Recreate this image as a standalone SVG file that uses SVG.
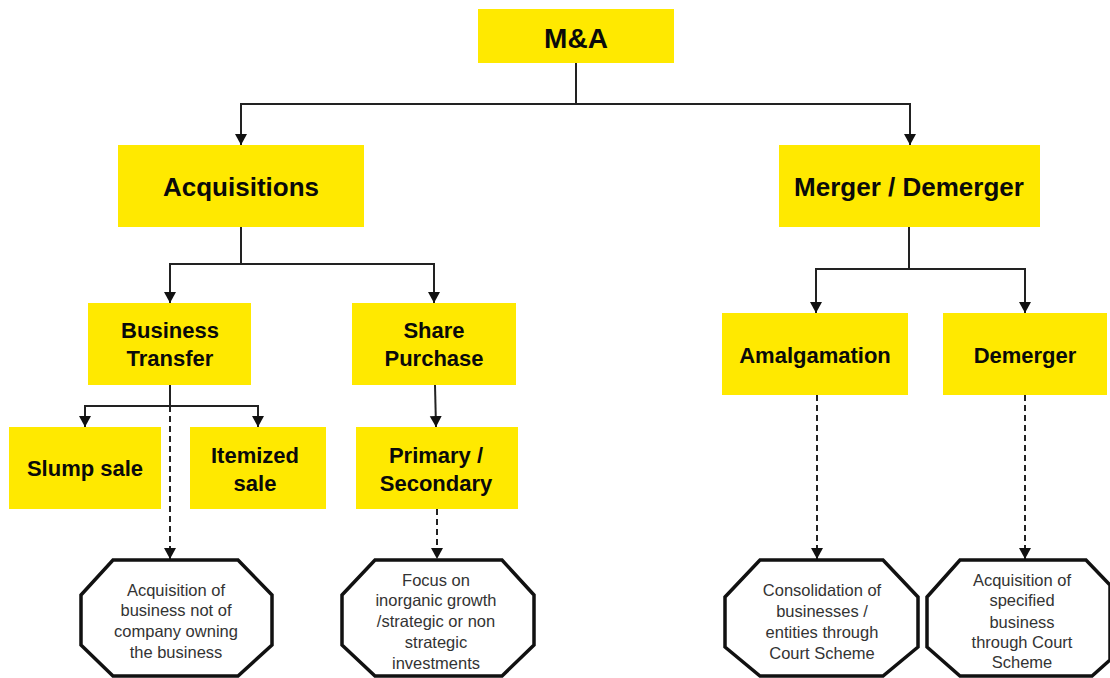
<svg xmlns="http://www.w3.org/2000/svg" width="1110" height="678" viewBox="0 0 1110 678">
  <style>
    .box { fill: #FFE900; }
    .oct { fill: #FFFFFF; stroke: #111111; stroke-width: 3.5; stroke-linejoin: miter; }
    .lbl { font-family: "Liberation Sans", Arial, sans-serif; font-weight: bold; fill: #0A0A0A; text-anchor: middle; }
    .note { font-family: "Liberation Sans", Arial, sans-serif; font-size: 16.5px; fill: #333333; text-anchor: middle; }
    .link { fill: none; stroke: #222222; stroke-width: 2; }
    .dash { fill: none; stroke: #222222; stroke-width: 2; stroke-dasharray: 6 4; }
  </style>
  <defs>
    <marker id="arrow" markerUnits="userSpaceOnUse" markerWidth="13" markerHeight="13" refX="11" refY="6" orient="auto">
      <path d="M0,0 L11,6 L0,12 z" fill="#111111"/>
    </marker>
  </defs>
  <rect width="1110" height="678" fill="#FFFFFF"/>

  <!-- connectors -->
  <g id="connectors">
    <path class="link" d="M576,63 V104 H241 V145" marker-end="url(#arrow)"/>
    <path class="link" d="M576,104 H910 V145" marker-end="url(#arrow)"/>
    <path class="link" d="M241,227 V264 H170 V303" marker-end="url(#arrow)"/>
    <path class="link" d="M241,264 H434 V303" marker-end="url(#arrow)"/>
    <path class="link" d="M909,227 V269 H816 V313" marker-end="url(#arrow)"/>
    <path class="link" d="M909,269 H1025 V313" marker-end="url(#arrow)"/>
    <path class="link" d="M170,385 V406 H85 V427" marker-end="url(#arrow)"/>
    <path class="link" d="M170,406 H258 V427" marker-end="url(#arrow)"/>
    <path class="link" d="M435,385 L436,427" marker-end="url(#arrow)"/>
    <path class="dash" d="M170,406 V559" marker-end="url(#arrow)"/>
    <path class="dash" d="M437,509 V559" marker-end="url(#arrow)"/>
    <path class="dash" d="M817,395 V559" marker-end="url(#arrow)"/>
    <path class="dash" d="M1025,395 V559" marker-end="url(#arrow)"/>
  </g>

  <g id="ma">
    <rect class="box" x="478" y="9" width="196" height="54"/>
    <text class="lbl" x="576" y="48" font-size="28">M&amp;A</text>
  </g>

  <g id="acquisitions">
    <rect class="box" x="118" y="145" width="246" height="82"/>
    <text class="lbl" x="241" y="196" font-size="26">Acquisitions</text>
  </g>

  <g id="merger-demerger">
    <rect class="box" x="779" y="145" width="261" height="82"/>
    <text class="lbl" x="909" y="196" font-size="26">Merger / Demerger</text>
  </g>

  <g id="business-transfer">
    <rect class="box" x="88" y="303" width="163" height="82"/>
    <text class="lbl" x="170" y="338" font-size="22">Business</text>
    <text class="lbl" x="170" y="366" font-size="22">Transfer</text>
  </g>

  <g id="share-purchase">
    <rect class="box" x="352" y="303" width="164" height="82"/>
    <text class="lbl" x="434" y="338" font-size="22">Share</text>
    <text class="lbl" x="434" y="366" font-size="22">Purchase</text>
  </g>

  <g id="amalgamation">
    <rect class="box" x="722" y="313" width="186" height="82"/>
    <text class="lbl" x="815" y="363" font-size="22">Amalgamation</text>
  </g>

  <g id="demerger">
    <rect class="box" x="943" y="313" width="164" height="82"/>
    <text class="lbl" x="1025" y="363" font-size="22">Demerger</text>
  </g>

  <g id="slump-sale">
    <rect class="box" x="9" y="427" width="152" height="82"/>
    <text class="lbl" x="85" y="476" font-size="22">Slump sale</text>
  </g>

  <g id="itemized-sale">
    <rect class="box" x="190" y="427" width="136" height="82"/>
    <text class="lbl" x="255" y="463" font-size="22">Itemized</text>
    <text class="lbl" x="255" y="491" font-size="22">sale</text>
  </g>

  <g id="primary-secondary">
    <rect class="box" x="356" y="427" width="162" height="82"/>
    <text class="lbl" x="436" y="463" font-size="22">Primary /</text>
    <text class="lbl" x="436" y="491" font-size="22">Secondary</text>
  </g>

  <g id="note-business">
    <polygon class="oct" points="113,560 238,560 272,595 272,645 238,676 113,676 81,645 81,595"/>
    <text class="note" x="176" y="596">Acquisition of</text>
    <text class="note" x="176" y="616">business not of</text>
    <text class="note" x="176" y="637">company owning</text>
    <text class="note" x="176" y="658">the business</text>
  </g>

  <g id="note-share">
    <polygon class="oct" points="375,560 502,560 534,595 534,645 502,676 375,676 342,645 342,595"/>
    <text class="note" x="436" y="586">Focus on</text>
    <text class="note" x="436" y="606">inorganic growth</text>
    <text class="note" x="436" y="627">/strategic or non</text>
    <text class="note" x="436" y="648">strategic</text>
    <text class="note" x="436" y="669">investments</text>
  </g>

  <g id="note-amalgamation">
    <polygon class="oct" points="760,560 883,560 918,597 918,647 883,676 760,676 725,647 725,597"/>
    <text class="note" x="822" y="596">Consolidation of</text>
    <text class="note" x="822" y="617">businesses /</text>
    <text class="note" x="822" y="638">entities through</text>
    <text class="note" x="822" y="659">Court Scheme</text>
  </g>

  <g id="note-demerger">
    <polygon class="oct" points="960,560 1086,560 1110,585 1110,660 1092,676 960,676 927,647 927,597"/>
    <text class="note" x="1022" y="586">Acquisition of</text>
    <text class="note" x="1022" y="606">specified</text>
    <text class="note" x="1022" y="628">business</text>
    <text class="note" x="1022" y="648">through Court</text>
    <text class="note" x="1022" y="668">Scheme</text>
  </g>
</svg>
